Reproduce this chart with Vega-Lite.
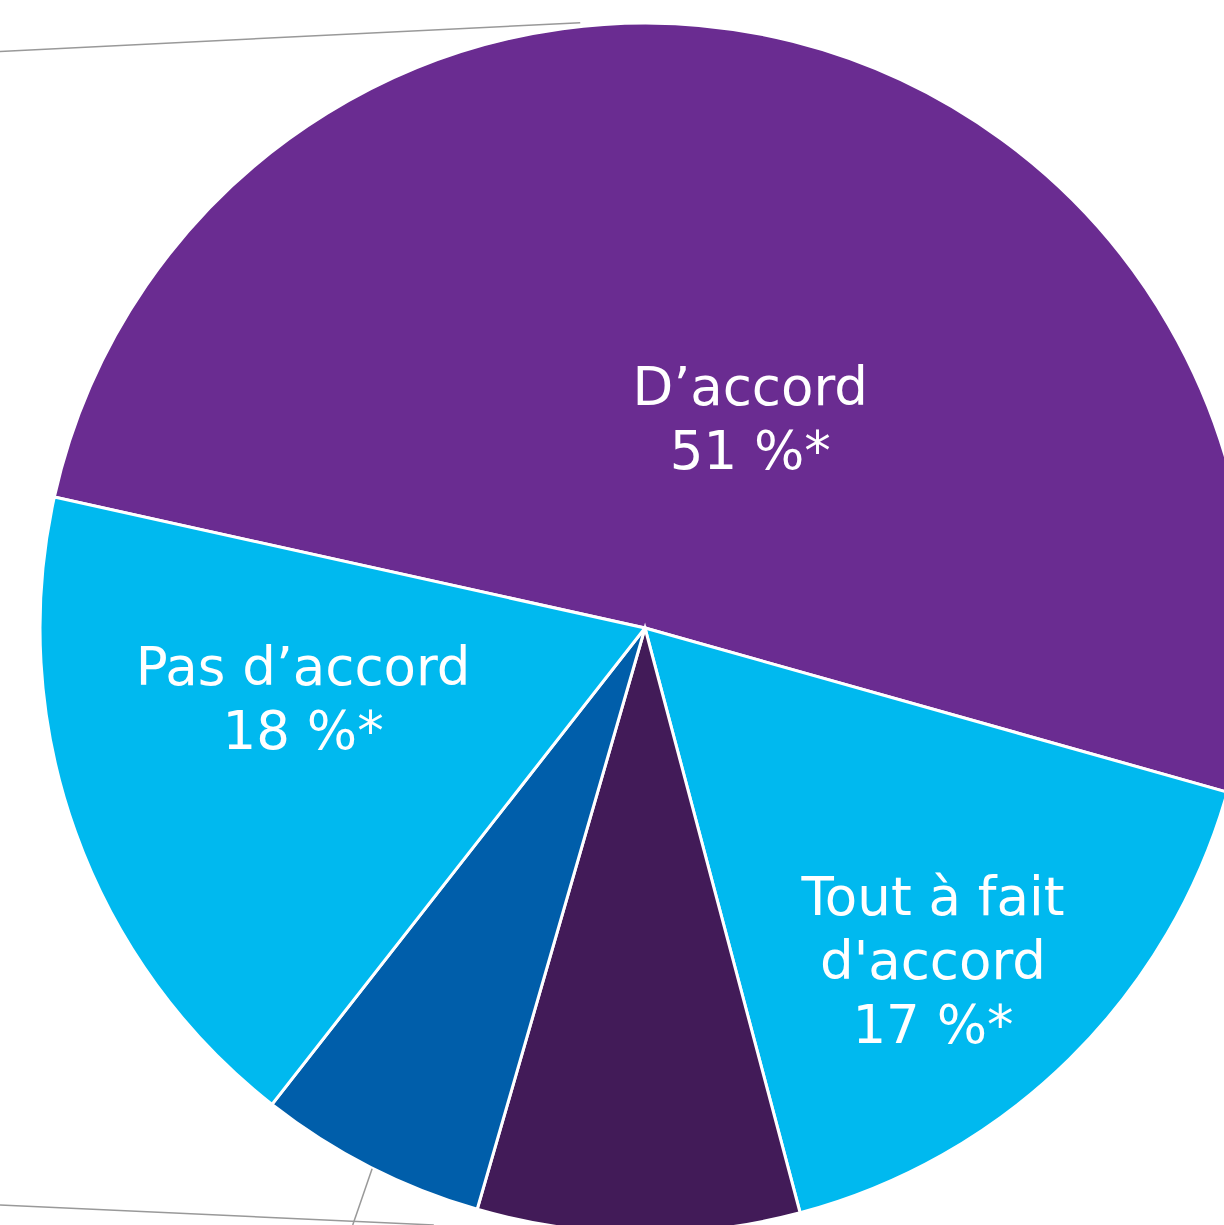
{
  "$schema": "https://vega.github.io/schema/vega-lite/v6.json",
  "width": 1224,
  "height": 1225,
  "autosize": "none",
  "padding": 0,
  "background": "white",
  "config": {"view": {"stroke": null}},
  "layer": [
    {
      "data": {"values": [
        {"segment": "D’accord", "value": 50.9, "rank": 1},
        {"segment": "Tout à fait d'accord", "value": 16.5, "rank": 2},
        {"segment": "Pas du tout d’accord", "value": 8.6, "rank": 3},
        {"segment": "Sans opinion", "value": 6.1, "rank": 4},
        {"segment": "Pas d’accord", "value": 17.9, "rank": 5}
      ]},
      "mark": {"type": "arc", "x": 645, "y": 628, "radius": 605, "stroke": "white", "strokeWidth": 3},
      "encoding": {
        "theta": {"field": "value", "type": "quantitative", "stack": true, "scale": {"range": [-1.3526, 4.9306]}},
        "order": {"field": "rank", "type": "quantitative"},
        "color": {"field": "segment", "type": "nominal", "legend": null,
          "scale": {"domain": ["D’accord", "Tout à fait d'accord", "Pas du tout d’accord", "Sans opinion", "Pas d’accord"],
                    "range": ["#6A2C91", "#00B9EF", "#421B58", "#005EAA", "#00B9EF"]}}
      }
    },
    {
      "data": {"values": [
        {"x": -106.6, "y": 95.3, "x2": -10.7, "y2": 100.05},
        {"x": -106.6, "y": -95.4, "x2": -34.9, "y2": -98.7},
        {"x": -45.1, "y": -89.4, "x2": -48.3, "y2": -98.7}
      ]},
      "mark": {"type": "rule", "color": "#999999", "strokeWidth": 1.5},
      "encoding": {
        "x": {"field": "x", "type": "quantitative", "scale": {"domain": [-106.6, 95.7], "nice": false, "zero": false}, "axis": null},
        "y": {"field": "y", "type": "quantitative", "scale": {"domain": [-98.7, 103.8], "nice": false, "zero": false}, "axis": null},
        "x2": {"field": "x2"},
        "y2": {"field": "y2"}
      }
    },
    {
      "data": {"values": [
        {"label": "D’accord\n51 %*", "x": 17.4, "y": 36.86},
        {"label": "Pas d’accord\n18 %*", "x": -56.5, "y": -9.42},
        {"label": "Tout à fait\nd'accord\n17 %*", "x": 47.6, "y": -47.44}
      ]},
      "mark": {"type": "text", "font": "DejaVu Sans", "fontSize": 53, "color": "white", "align": "center", "baseline": "alphabetic", "lineBreak": "\n", "lineHeight": 64},
      "encoding": {
        "x": {"field": "x", "type": "quantitative", "scale": {"domain": [-106.6, 95.7], "nice": false, "zero": false}, "axis": null},
        "y": {"field": "y", "type": "quantitative", "scale": {"domain": [-98.7, 103.8], "nice": false, "zero": false}, "axis": null},
        "text": {"field": "label"}
      }
    }
  ]
}
